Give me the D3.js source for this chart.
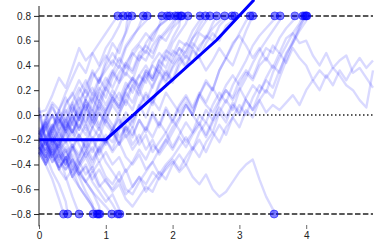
<!DOCTYPE html>
<html lang="en">
<head>
<meta charset="UTF-8">
<script src="https://cdn.jsdelivr.net/npm/d3@7"></script>
<style>
  body { margin: 0; background: #fff; }
  svg { display: block; font-family: "DejaVu Sans", sans-serif; }
</style>
</head>
<body>
<script>
// sampling step of the walks (time units)
var dt = 0.1;

// walks that end on the upper bound; values in hundredths, one every dt, last one at the hit time
var upTimes = [1.18, 1.26, 1.33, 1.39, 1.56, 1.62, 1.84, 1.92, 1.96, 2.04, 2.08, 2.14, 2.23, 2.41,
               2.49, 2.56, 2.66, 2.78, 2.89, 2.93, 3.16, 3.20, 3.53, 3.61, 3.83, 3.95, 4.01,
               3.98, 4.00, 2.12];
var upPaths = [
  [-14,-2,10,4,18,30,42,34,50,58,66,74,80],
  [2,4,16,30,22,38,54,44,50,40,54,62,72,80],
  [-24,-12,0,-8,8,18,6,24,34,26,44,58,50,68,80],
  [-18,-28,-10,4,-6,10,22,12,30,38,48,40,56,66,80],
  [-22,-10,-24,-6,4,-8,12,20,10,28,36,44,38,54,62,72,80],
  [-16,-4,8,-6,10,16,28,18,36,26,40,50,42,56,64,70,76,80],
  [-28,-16,-30,-20,-6,-14,2,-8,12,22,14,30,40,32,48,56,50,64,72,80],
  [-2,0,-12,4,14,2,18,28,16,30,20,34,46,38,52,58,66,60,72,76,80],
  [-30,-40,-26,-14,-22,-6,4,12,2,20,30,22,34,42,50,44,58,66,72,77,80],
  [-20,-8,0,-14,-4,8,-4,14,22,12,26,36,28,42,36,50,56,50,62,68,75,80],
  [-26,-34,-20,-26,-10,0,-12,4,14,4,22,14,26,34,28,44,52,46,60,66,72,80],
  [-18,-6,6,-4,-12,2,14,4,18,10,22,34,26,40,34,48,44,56,64,60,70,76,80],
  [-32,-20,-34,-24,-40,-28,-16,-26,-10,2,-6,10,18,8,24,32,26,42,50,44,58,66,74,80],
  [4,-20,-12,2,-10,6,-4,10,-2,12,4,16,8,22,30,24,36,30,44,52,48,60,56,68,76,80],
  [-26,-36,-28,-42,-34,-46,-38,-28,-38,-26,-16,-22,-8,2,-6,8,18,10,26,36,28,44,52,62,72,80],
  [-14,-24,-12,-22,-8,-16,-2,-12,0,-10,4,14,6,20,28,20,34,28,40,48,42,54,50,62,68,76,80],
  [-22,-10,0,-12,2,10,-2,12,4,18,8,20,12,26,18,32,40,30,44,38,52,48,58,54,66,62,74,80],
  [-30,-40,-28,-44,-34,-50,-40,-30,-42,-28,-20,-28,-12,-2,-10,6,16,8,24,34,26,40,48,42,56,62,70,80],
  [0,-20,-8,-18,-4,-14,0,8,-4,10,2,14,6,20,30,22,36,28,40,32,46,54,46,58,52,64,60,72,78,80],
  [-24,-34,-20,-30,-40,-26,-34,-20,-10,-18,-4,-12,2,12,4,20,10,24,34,26,38,46,38,52,46,58,66,60,72,76,80],
  [-16,-4,-14,-2,-12,0,-10,4,-6,8,0,-8,-18,-10,-24,-16,-28,-20,-32,-24,-14,
   -4,8,0,16,26,20,36,46,56,66,76,80],
  [-28,-38,-30,-44,-34,-50,-42,-34,-46,-38,-50,-56,-46,-60,-64,-54,-46,-38,-28,-20,-10,
   -2,8,0,16,28,20,36,46,40,54,68,80],
  [-20,-10,-22,-12,-2,-14,-4,8,-6,6,-4,-12,-4,-18,-10,-24,-16,-30,-22,-14,-26,
   -16,-6,-14,0,-6,8,18,10,24,34,44,56,64,70,76,80],
  [-32,-22,-34,-24,-14,-26,-16,-28,-18,-30,-20,-30,-22,-34,-40,-32,-44,-38,-48,-40,-34,
   -26,-18,-28,-14,-6,-14,2,12,4,20,30,42,52,60,68,76,80],
  [-12,-24,-14,-26,-16,-6,-18,-8,-20,-10,-22,-12,-2,-14,-4,8,-2,12,4,18,10,
   2,10,0,-8,4,-4,10,20,14,28,36,30,44,54,50,62,70,76,80],
  [-26,-36,-24,-38,-30,-44,-34,-24,-36,-26,-38,-46,-54,-44,-58,-50,-62,-54,-46,-52,-40,
   -32,-40,-28,-20,-30,-18,-8,-16,-2,8,0,14,24,18,34,46,56,66,74,80],
  [-18,-6,-16,-4,-14,-2,-12,0,-10,2,-8,-14,-24,-16,-28,-20,-10,-18,-6,-14,-4,
   -12,-22,-14,-6,-16,-4,6,-2,10,2,14,24,18,30,40,34,50,58,68,76,80],
  [-22,-32,-24,-36,-28,-40,-48,-40,-52,-44,-54,-60,-52,-64,-58,-50,-56,-46,-52,-42,-36,
   -44,-34,-26,-34,-22,-14,-22,-10,-2,-10,4,-2,12,20,14,30,44,58,70,80],
  [-14,-24,-18,-30,-22,-12,-24,-34,-26,-38,-30,-40,-34,-46,-38,-28,-36,-24,-30,-20,-28,
   -18,-26,-16,-8,-18,-6,2,-6,8,0,12,4,18,28,22,36,48,60,72,80],
  [-20,-28,-16,-24,-12,-20,-8,-16,-4,-12,-2,8,0,14,24,16,30,40,34,50,62,72,80]
];

// walks that end on the lower bound
var downTimes = [0.37, 0.43, 0.60, 0.81, 0.87, 0.91, 1.09, 1.18, 1.21, 3.52, 0.89];
var downPaths = [
  [-24,-40,-52,-68,-80],
  [-18,-32,-46,-56,-70,-80],
  [-28,-22,-38,-32,-50,-66,-80],
  [-14,-8,-22,-34,-26,-42,-50,-62,-72,-80],
  [-30,-40,-32,-44,-52,-44,-58,-66,-74,-80],
  [-16,-6,-18,-28,-20,-36,-44,-54,-62,-74,-80],
  [-22,-30,-20,-32,-40,-32,-46,-54,-62,-68,-74,-80],
  [-10,-18,-8,-20,-30,-24,-38,-48,-42,-56,-64,-72,-80],
  [-34,-26,-38,-30,-44,-36,-48,-42,-54,-62,-70,-64,-76,-80],
  [-26,-34,-26,-38,-44,-36,-48,-54,-46,-58,-52,-62,-56,-68,-74,-66,-58,-62,-50,-44,
   -38,-46,-40,-50,-56,-48,-60,-66,-62,-54,-46,-40,-36,-52,-66,-76,-80],
  [-26,-20,-34,-42,-36,-50,-58,-66,-74,-80]
];

// walks that never reach a bound before the end
var openTime = 5.0;
var openPaths = [
  [-20,-30,-18,-28,-36,-24,-32,-20,-30,-16,-24,-12,-22,-8,-16,-4,-12,2,-8,6,-4,
   8,16,6,18,10,22,12,24,32,24,34,28,40,46,38,50,42,54,46,40,28,36,30,38,32,24,20,12,6,36],
  [6,-20,-10,-2,-14,-4,6,-6,4,-8,2,12,4,18,10,24,32,22,36,28,40,
   48,40,54,46,36,44,54,46,58,64,56,46,54,44,56,50,62,66,58,60,48,40,50,38,44,48,34,38,30,22],
  [-30,-20,-32,-22,-36,-26,-40,-30,-20,-32,-22,-12,-24,-10,-18,-4,-14,0,-10,4,-6,
   6,14,4,16,8,2,12,20,12,22,12,4,12,2,8,4,10,16,8,20,28,20,32,24,36,28,38,46,38,44]
];

// mean trajectory
var meanX = [0, 1, 2.66, 3.22];
var meanY = [-0.2, -0.2, 0.605, 0.93];

var bounds = [0.8, -0.8];
var midLine = 0;
var xTicks = [0, 1, 2, 3, 4];
var yTicks = [-0.8, -0.6, -0.4, -0.2, 0.0, 0.2, 0.4, 0.6, 0.8];

var width = 380, height = 248;

var x = d3.scaleLinear().domain([0, 5]).range([39, 373]);
var y = d3.scaleLinear().domain([-0.9, 0.88]).range([226.4, 6]);

var svg = d3.select("body").append("svg")
    .attr("width", width)
    .attr("height", height);

// turn a list of hundredths into [t, value] points
function toPoints(vals, endT) {
    return vals.map(function (v, i) {
        var t = (i === vals.length - 1) ? endT : Math.min(i * dt, endT);
        return [t, v / 100];
    });
}

var line = d3.line().x(function (d) { return x(d[0]); }).y(function (d) { return y(d[1]); });

// reference lines
svg.selectAll("line.bound").data(bounds).enter().append("line")
    .attr("class", "bound")
    .attr("x1", x(0)).attr("x2", x(5))
    .attr("y1", function (d) { return y(d); }).attr("y2", function (d) { return y(d); })
    .attr("stroke", "#222").attr("stroke-width", 1.5)
    .attr("stroke-dasharray", "5.5,2.4");

svg.append("line")
    .attr("x1", x(0)).attr("x2", x(5))
    .attr("y1", y(midLine)).attr("y2", y(midLine))
    .attr("stroke", "#222").attr("stroke-width", 1.5)
    .attr("stroke-dasharray", "1.5,2.5");

// random walks
var walks = [];
upPaths.forEach(function (p, i) { walks.push(toPoints(p, upTimes[i])); });
downPaths.forEach(function (p, i) { walks.push(toPoints(p, downTimes[i])); });
openPaths.forEach(function (p) { walks.push(toPoints(p, openTime)); });

svg.append("g").selectAll("path").data(walks).enter().append("path")
    .attr("d", line)
    .attr("fill", "none")
    .attr("stroke", "blue")
    .attr("stroke-opacity", 0.15)
    .attr("stroke-width", 2.4)
    .attr("stroke-linejoin", "round");

// mean trajectory
svg.append("path")
    .datum(d3.zip(meanX, meanY))
    .attr("d", line)
    .attr("fill", "none")
    .attr("stroke", "blue")
    .attr("stroke-width", 3);

// hit markers
var hits = upTimes.map(function (t) { return [t, bounds[0]]; })
    .concat(downTimes.map(function (t) { return [t, bounds[1]]; }));

svg.append("g").selectAll("circle").data(hits).enter().append("circle")
    .attr("cx", function (d) { return x(d[0]); })
    .attr("cy", function (d) { return y(d[1]); })
    .attr("r", 4)
    .attr("fill", "blue")
    .attr("fill-opacity", 0.5)
    .attr("stroke", "blue")
    .attr("stroke-opacity", 0.5)
    .attr("stroke-width", 1);

// left axis
var yAxis = d3.axisLeft(y).tickValues(yTicks).tickSize(5).tickPadding(3)
    .tickFormat(function (d) { return d3.format(".1f")(d).replace("-", "\u2212"); });
var gy = svg.append("g").attr("transform", "translate(" + x(0) + ",0)").call(yAxis);
gy.select(".domain").attr("d", "M0," + y.range()[0] + "V" + y.range()[1]).attr("stroke", "#222");
gy.selectAll(".tick line").attr("stroke", "#222");
gy.selectAll("text").attr("font-size", 10).attr("fill", "#222");

// bottom axis, no spine
var xAxis = d3.axisBottom(x).tickValues(xTicks).tickSize(4).tickPadding(3).tickFormat(d3.format("d"));
var gx = svg.append("g").attr("transform", "translate(0," + 225 + ")").call(xAxis);
gx.select(".domain").remove();
gx.selectAll(".tick line").attr("stroke", "#444").attr("stroke-width", 0.8);
gx.selectAll("text").attr("font-size", 10).attr("fill", "#222");
</script>
</body>
</html>
